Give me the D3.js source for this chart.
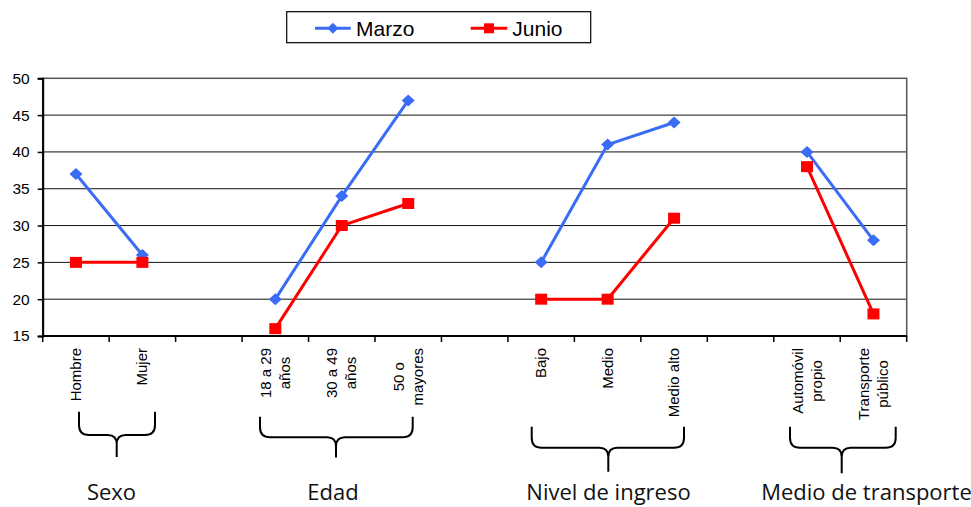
<!DOCTYPE html>
<html><head><meta charset="utf-8">
<script src="https://cdn.jsdelivr.net/npm/d3@7"></script>
<style>body{margin:0;background:#fff}svg{display:block}</style>
</head><body><svg id="c" width="971" height="507"></svg>
<script>
// ---- data ----
const categories = ["Hombre","Mujer","","18 a 29|años","30 a 49|años","50 o|mayores","","Bajo","Medio","Medio alto","","Automóvil|propio","Transporte|público"];
const marzo = [37,26,null,20,34,47,null,25,41,44,null,40,28];
const junio = [25,25,null,16,30,33,null,20,20,31,null,38,18];
const yTicks = [15,20,25,30,35,40,45,50];
const seriesNames = ["Marzo","Junio"];
const groupNames = ["Sexo","Edad","Nivel de ingreso","Medio de transporte"];

// ---- layout (not data) ----
const braces = [
  {x1:79, x2:155, xc:116.7, top:411.7, mid:435, bot:457, lx:111.5},
  {x1:260, x2:412.7, xc:336, top:416.7, mid:437.3, bot:457.5, lx:333},
  {x1:531.7, x2:684, xc:608.3, top:426.7, mid:447.7, bot:471.7, lx:608.5},
  {x1:790, x2:895.7, xc:841.7, top:426.7, mid:447.7, bot:473.3, lx:866.5}
];
const colors = {Marzo:"#3A6CF6", Junio:"#FF0000"};

const svg = d3.select("#c");
const L = 42.7, R = 906.7, T = 78.3, B = 336;
const x = d3.scaleBand().domain(d3.range(categories.length)).range([L, R]).padding(0);
const y = d3.scaleLinear().domain([15, 50]).range([B, T]);
const cx = i => x(i) + x.bandwidth() / 2;

// gridlines
svg.append("g").selectAll("line").data(yTicks.filter(v => v > 15 && v < 50)).join("line")
  .attr("x1", L).attr("x2", R).attr("y1", d => y(d)).attr("y2", d => y(d))
  .attr("stroke", "#111").attr("stroke-width", 1);
// plot border
svg.append("rect").attr("x", L).attr("y", T).attr("width", R - L).attr("height", B - T)
  .attr("fill", "none").attr("stroke", "#555").attr("stroke-width", 1.5);

// y axis
const yAxis = svg.append("g").attr("transform", `translate(${L},0)`)
  .call(d3.axisLeft(y).tickValues(yTicks).tickSize(5).tickPadding(8));
yAxis.select(".domain").attr("stroke", "#000").attr("stroke-width", 2);
yAxis.selectAll(".tick line").attr("stroke", "#000").attr("stroke-width", 1.5);
yAxis.selectAll(".tick text").attr("font-family", "'Liberation Sans', Arial, sans-serif")
  .attr("font-size", 15.5).attr("fill", "#000");

// x axis ticks (boundaries)
const xAxis = svg.append("g").attr("transform", `translate(0,${B})`);
xAxis.append("line").attr("x1", L).attr("x2", R).attr("stroke", "#000").attr("stroke-width", 2);
xAxis.selectAll("line.tk").data(d3.range(categories.length + 1)).join("line").attr("class", "tk")
  .attr("x1", i => i < categories.length ? x(i) : R).attr("x2", i => i < categories.length ? x(i) : R)
  .attr("y1", 0).attr("y2", 6).attr("stroke", "#000").attr("stroke-width", 1.5);

// rotated category labels
const lblTop = 348, lh = 19;
categories.forEach((c, i) => {
  if (!c) return;
  const lines = c.split("|");
  const g = svg.append("g").attr("transform", `translate(${cx(i)},${lblTop}) rotate(-90)`);
  const ts = lines.map((t, k) => g.append("text").text(t)
    .attr("font-family", "'Liberation Sans', Arial, sans-serif").attr("font-size", 15)
    .attr("fill", "#000")
    .attr("y", (k - (lines.length - 1) / 2) * lh + 5));
  const maxW = d3.max(ts, t => t.node().getComputedTextLength());
  ts.forEach(t => t.attr("text-anchor", "middle").attr("x", -maxW / 2));
});

// lines & markers
const line = d3.line().defined(d => d.v != null).x(d => cx(d.i)).y(d => y(d.v));
const series = [{name:"Marzo", vals:marzo, shape:"diamond"}, {name:"Junio", vals:junio, shape:"square"}];
series.forEach(s => {
  const pts = s.vals.map((v, i) => ({i, v}));
  svg.append("path").datum(pts).attr("d", line).attr("fill", "none")
    .attr("stroke", colors[s.name]).attr("stroke-width", 3).attr("stroke-linejoin", "round");
});
series.forEach(s => {
  const pts = s.vals.map((v, i) => ({i, v})).filter(d => d.v != null);
  const g = svg.append("g");
  if (s.shape === "diamond") {
    g.selectAll("path").data(pts).join("path")
      .attr("d", d => { const px = cx(d.i), py = y(d.v); return `M${px},${py-6}L${px+6.5},${py}L${px},${py+6}L${px-6.5},${py}Z`; })
      .attr("fill", colors[s.name]);
  } else {
    g.selectAll("rect").data(pts).join("rect")
      .attr("x", d => cx(d.i) - 6).attr("y", d => y(d.v) - 5.5).attr("width", 12).attr("height", 11)
      .attr("fill", colors[s.name]);
  }
});

// legend
const lg = svg.append("g");
lg.append("rect").attr("x", 286.7).attr("y", 11.7).attr("width", 304).attr("height", 31)
  .attr("fill", "#fff").attr("stroke", "#000").attr("stroke-width", 1.2);
const legItems = [{name:seriesNames[0], x0:315, x1:350.7, tx:356, shape:"diamond"}, {name:seriesNames[1], x0:470.7, x1:507.3, tx:512.3, shape:"square"}];
legItems.forEach(it => {
  const ly = 28.3, mx = (it.x0 + it.x1) / 2;
  lg.append("line").attr("x1", it.x0).attr("x2", it.x1).attr("y1", ly).attr("y2", ly)
    .attr("stroke", colors[it.name]).attr("stroke-width", 3);
  if (it.shape === "diamond") lg.append("path").attr("d", `M${mx},${ly-5.5}L${mx+5.5},${ly}L${mx},${ly+5.5}L${mx-5.5},${ly}Z`).attr("fill", colors[it.name]);
  else lg.append("rect").attr("x", mx - 5).attr("y", ly - 5).attr("width", 10).attr("height", 10).attr("fill", colors[it.name]);
  lg.append("text").text(it.name).attr("x", it.tx).attr("y", 36)
    .attr("font-family", "'Liberation Sans', Arial, sans-serif").attr("font-size", 21).attr("fill", "#000");
});

// braces & group labels
braces.forEach((b, k) => {
  const r = 10, r2 = 9;
  const d = `M${b.x1},${b.top}L${b.x1},${b.mid-r}Q${b.x1},${b.mid} ${b.x1+r},${b.mid}L${b.xc-r2},${b.mid}Q${b.xc},${b.mid} ${b.xc},${b.mid+r2}L${b.xc},${b.bot}` +
            `M${b.x2},${b.top}L${b.x2},${b.mid-r}Q${b.x2},${b.mid} ${b.x2-r},${b.mid}L${b.xc+r2},${b.mid}Q${b.xc},${b.mid} ${b.xc},${b.mid+r2}`;
  svg.append("path").attr("d", d).attr("fill", "none").attr("stroke", "#000").attr("stroke-width", 2);
  svg.append("text").text(groupNames[k]).attr("x", b.lx).attr("y", 500).attr("text-anchor", "middle")
    .attr("font-family", "'Open Sans', sans-serif").attr("font-size", 22).attr("fill", "#111");
});
</script></body></html>
